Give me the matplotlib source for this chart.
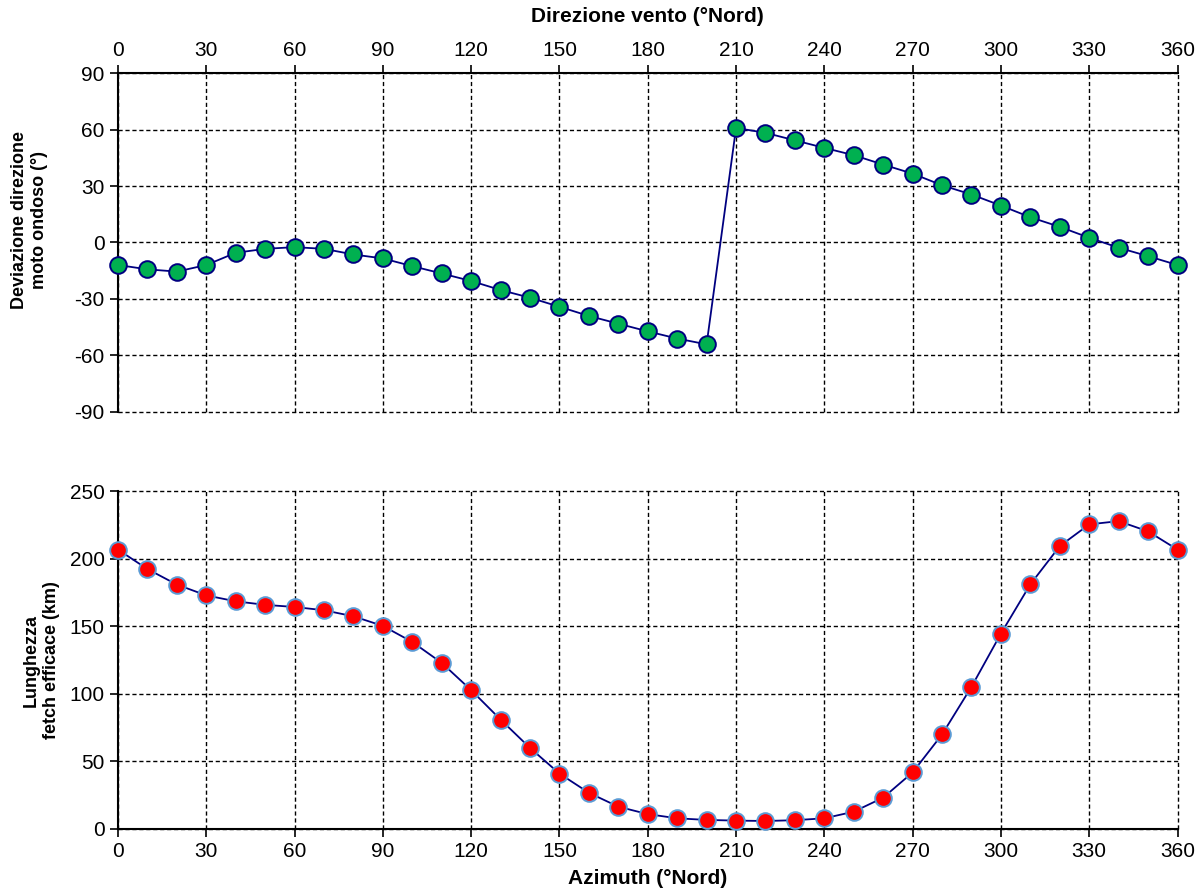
import matplotlib.pyplot as plt

plt.rcParams['font.family'] = ['Liberation Sans', 'DejaVu Sans']
plt.rcParams['axes.unicode_minus'] = False

# azimuth / wind direction (deg North)
azimut = [0, 10, 20, 30, 40, 50, 60, 70, 80, 90, 100, 110, 120, 130, 140, 150, 160, 170, 180,
          190, 200, 210, 220, 230, 240, 250, 260, 270, 280, 290, 300, 310, 320, 330, 340, 350, 360]

# deviazione direzione moto ondoso (deg)
deviazione = [-12, -14.3, -15.5, -12, -5.5, -3.4, -2.5, -3.4, -6.4, -8.5, -12.6, -16.5, -20.5,
              -25.3, -29.4, -34.2, -39.1, -43.2, -47.3, -51.1, -54.2, 60.9, 58.3, 54.3, 50.3,
              46.4, 41.4, 36.6, 30.4, 25.5, 19.6, 13.4, 8.3, 2.5, -2.8, -7.3, -12]

# lunghezza fetch efficace (km)
fetch = [206.9, 192.5, 181, 173, 168.6, 166, 164.4, 162, 157.5, 150.4, 138.5, 123, 102.8, 81,
         60, 41, 26.8, 16.5, 11, 7.9, 6.7, 6.2, 5.9, 6.5, 7.9, 12.8, 23.2, 41.9, 70, 105.3,
         144.7, 181.2, 209.5, 225.6, 228, 220.4, 206.9]

xticks = list(range(0, 361, 30))

fig = plt.figure(figsize=(12.04, 8.93), dpi=100)
ax1 = fig.add_axes([0.098, 0.539, 0.880, 0.379])
ax2 = fig.add_axes([0.098, 0.0717, 0.880, 0.378])

navy = '#000080'

ax1.plot(azimut, deviazione, color=navy, lw=1.3, marker='o', ms=12,
         mfc='#00B050', mec=navy, mew=1.4, zorder=3, clip_on=False)
ax2.plot(azimut, fetch, color=navy, lw=1.3, marker='o', ms=12,
         mfc='#FF0000', mec='#5B9BD5', mew=1.4, zorder=3, clip_on=False)

for ax in (ax1, ax2):
    ax.set_xlim(0, 360)
    ax.set_xticks(xticks)
    ax.grid(True, color='black', ls='--', lw=1.0, dashes=(3, 2))
    ax.tick_params(labelsize=15, direction='out', length=6, width=1.2, color='black')
    for s in ax.spines.values():
        s.set_linewidth(1.5)
    ax.set_axisbelow(True)
    for gl in ax.get_xgridlines() + ax.get_ygridlines():
        gl.set_clip_on(False)

ax1.set_ylim(-90, 90)
ax1.set_yticks(range(-90, 91, 30))
ax1.xaxis.tick_top()
ax1.xaxis.set_label_position('top')
ax1.spines['right'].set_visible(False)
ax1.spines['bottom'].set_visible(False)
ax1.set_xlabel('Direzione vento (°Nord)', fontsize=15, fontweight='bold', labelpad=14)
ax1.set_ylabel('Deviazione direzione\nmoto ondoso (°)', fontsize=13, fontweight='bold')
ax1.yaxis.set_label_coords(-0.066, 0.566)

ax2.set_ylim(0, 250)
ax2.set_yticks(range(0, 251, 50))
ax2.spines['right'].set_visible(False)
ax2.spines['top'].set_visible(False)
ax2.set_xlabel('Azimuth (°Nord)', fontsize=15, fontweight='bold', labelpad=6)
ax2.set_ylabel('Lunghezza\nfetch efficace (km)', fontsize=13, fontweight='bold')
ax2.yaxis.set_label_coords(-0.055, 0.5)

fig.savefig('out.png', dpi=100)
